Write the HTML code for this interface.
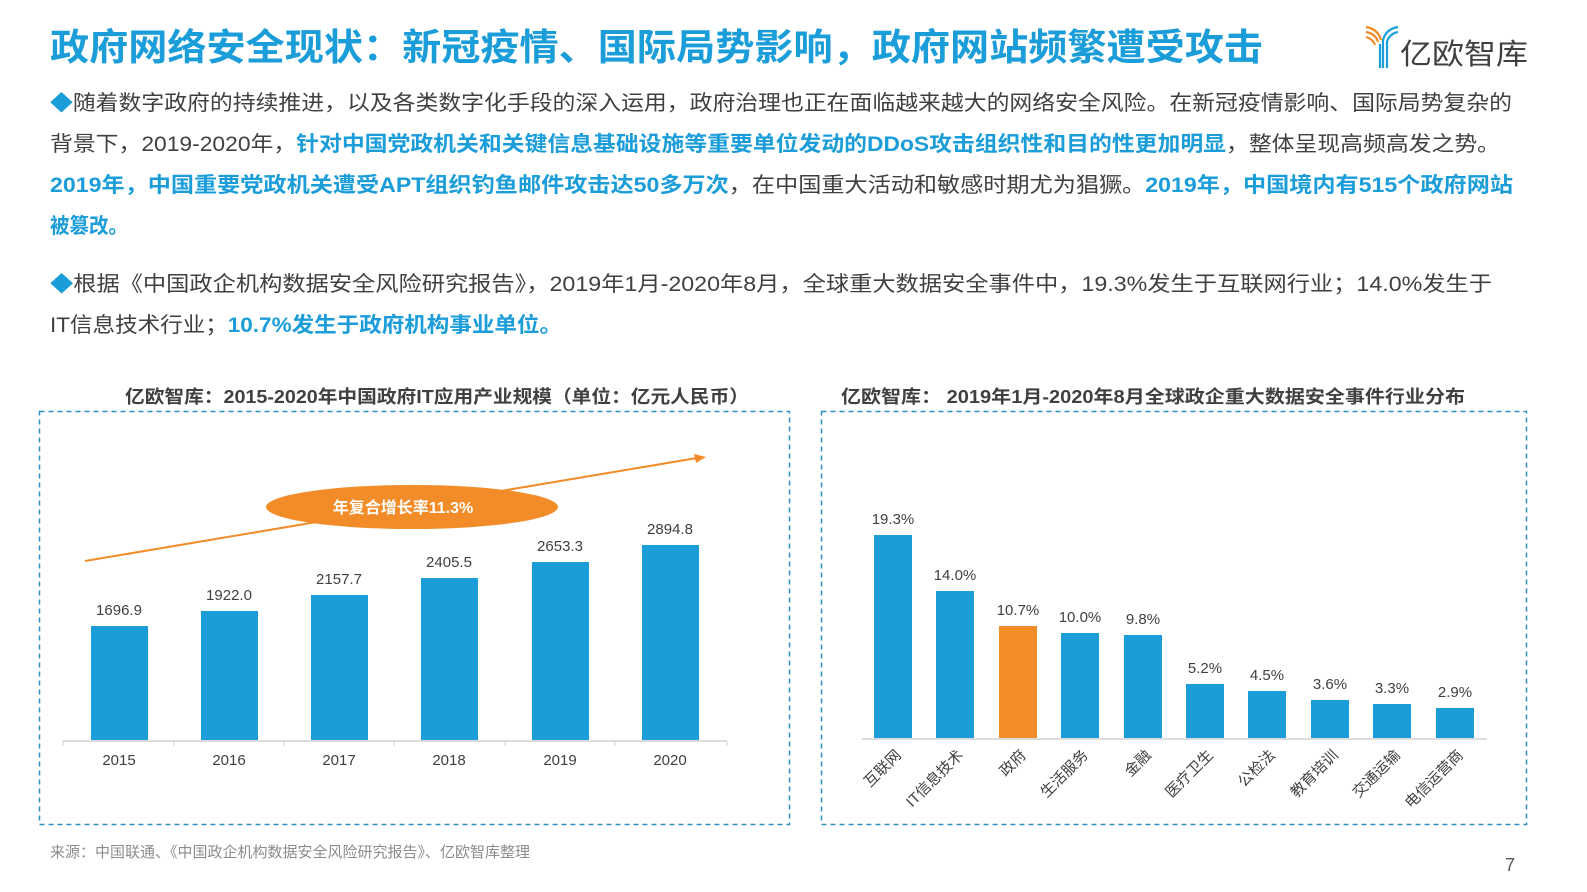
<!DOCTYPE html>
<html><head><meta charset="utf-8"><style>
html,body{margin:0;padding:0;background:#fff;width:1587px;height:892px;overflow:hidden;}
svg{display:block;position:absolute;left:0;top:0;font-family:"Liberation Sans","Noto Sans CJK SC",sans-serif;}
.b{fill:#1b9dd9;font-weight:bold;}
</style></head><body>
<svg width="1587" height="892" viewBox="0 0 1587 892" xmlns="http://www.w3.org/2000/svg">
<text x="50" y="60" font-size="37" font-weight="bold" fill="#1b9dd9" textLength="1213" lengthAdjust="spacingAndGlyphs">政府网络安全现状：新冠疫情、国际局势影响，政府网站频繁遭受攻击</text>
<g fill="none" stroke-width="2.2">
<path d="M1366 27 Q1378 29 1381 40" stroke="#f28c28"/>
<path d="M1366 32 Q1376 34 1378 42" stroke="#f28c28"/>
<path d="M1366 37 Q1373 39 1375 45" stroke="#f28c28"/>
<path d="M1398 27 Q1386 29 1383 40 L1383 68" stroke="#1b9dd9"/>
<path d="M1398 32 Q1389 34 1387 42 L1387 68" stroke="#1b9dd9"/>
<path d="M1380 44 L1380 68" stroke="#1b9dd9"/>
</g>
<text x="1400" y="64" font-size="29" fill="#404040" textLength="128" lengthAdjust="spacingAndGlyphs">亿欧智库</text>
<g font-size="21" fill="#404040">
<text x="50" y="110" textLength="1462" lengthAdjust="spacingAndGlyphs"><tspan fill="#1b9dd9">◆</tspan>随着数字政府的持续推进，以及各类数字化手段的深入运用，政府治理也正在面临越来越大的网络安全风险。在新冠疫情影响、国际局势复杂的</text>
<text x="50" y="151" textLength="1450" lengthAdjust="spacingAndGlyphs">背景下，2019-2020年，<tspan class="b">针对中国党政机关和关键信息基础设施等重要单位发动的DDoS攻击组织性和目的性更加明显</tspan>，整体呈现高频高发之势。</text>
<text x="50" y="192" textLength="1463" lengthAdjust="spacingAndGlyphs"><tspan class="b">2019年，中国重要党政机关遭受APT组织钓鱼邮件攻击达50多万次</tspan>，在中国重大活动和敏感时期尤为猖獗。<tspan class="b">2019年，中国境内有515个政府网站</tspan></text>
<text x="50" y="233" class="b" textLength="78" lengthAdjust="spacingAndGlyphs">被篡改。</text>
<text x="50" y="291" textLength="1442" lengthAdjust="spacingAndGlyphs"><tspan fill="#1b9dd9">◆</tspan>根据《中国政企机构数据安全风险研究报告》，2019年1月-2020年8月，全球重大数据安全事件中，19.3%发生于互联网行业；14.0%发生于</text>
<text x="50" y="332" textLength="512" lengthAdjust="spacingAndGlyphs">IT信息技术行业；<tspan class="b">10.7%发生于政府机构事业单位。</tspan></text>
</g>
<text x="437" y="403" font-size="18" font-weight="bold" fill="#404040" text-anchor="middle" textLength="624" lengthAdjust="spacingAndGlyphs">亿欧智库：2015-2020年中国政府IT应用产业规模（单位：亿元人民币）</text>
<text x="1153" y="403" font-size="18" font-weight="bold" fill="#404040" text-anchor="middle" textLength="624" lengthAdjust="spacingAndGlyphs">亿欧智库： 2019年1月-2020年8月全球政企重大数据安全事件行业分布</text>
<rect x="39.5" y="411.5" width="750" height="413" fill="none" stroke="#2e8fc0" stroke-width="1.5" stroke-dasharray="5,4"/>
<rect x="821.5" y="411.5" width="705" height="413" fill="none" stroke="#2e8fc0" stroke-width="1.5" stroke-dasharray="5,4"/>
<g fill="#1b9dd9">
<rect x="91" y="626" width="57" height="114"/>
<rect x="201" y="611" width="57" height="129"/>
<rect x="311" y="595" width="57" height="145"/>
<rect x="421" y="578" width="57" height="162"/>
<rect x="532" y="562" width="57" height="178"/>
<rect x="642" y="545" width="57" height="195"/>
</g>
<line x1="63" y1="741" x2="727" y2="741" stroke="#d0d0d0" stroke-width="1.5"/>
<g stroke="#d0d0d0"><line x1="63" y1="741" x2="63" y2="746"/><line x1="174" y1="741" x2="174" y2="746"/><line x1="284" y1="741" x2="284" y2="746"/><line x1="394" y1="741" x2="394" y2="746"/><line x1="505" y1="741" x2="505" y2="746"/><line x1="615" y1="741" x2="615" y2="746"/><line x1="727" y1="741" x2="727" y2="746"/></g>
<g font-size="15" fill="#404040" text-anchor="middle">
<text x="119" y="615">1696.9</text><text x="229" y="600">1922.0</text><text x="339" y="584">2157.7</text><text x="449" y="567">2405.5</text><text x="560" y="551">2653.3</text><text x="670" y="534">2894.8</text>
<text x="119" y="765">2015</text><text x="229" y="765">2016</text><text x="339" y="765">2017</text><text x="449" y="765">2018</text><text x="560" y="765">2019</text><text x="670" y="765">2020</text>
</g>
<line x1="85" y1="561" x2="697" y2="458" stroke="#f28c28" stroke-width="2"/>
<polygon points="706,457 694,454 696,463" fill="#f28c28"/>
<ellipse cx="412" cy="507" rx="146" ry="22" fill="#f28c28"/>
<text x="403" y="513" font-size="16" font-weight="bold" fill="#fff" text-anchor="middle">年复合增长率11.3%</text>
<g fill="#1b9dd9">
<rect x="874" y="535" width="38" height="203"/>
<rect x="936" y="591" width="38" height="147"/>
<rect x="999" y="626" width="38" height="112" fill="#f28c28"/>
<rect x="1061" y="633" width="38" height="105"/>
<rect x="1124" y="635" width="38" height="103"/>
<rect x="1186" y="684" width="38" height="54"/>
<rect x="1248" y="691" width="38" height="47"/>
<rect x="1311" y="700" width="38" height="38"/>
<rect x="1373" y="704" width="38" height="34"/>
<rect x="1436" y="708" width="38" height="30"/>
</g>
<line x1="862" y1="739" x2="1487" y2="739" stroke="#d0d0d0" stroke-width="1.5"/>
<g font-size="15" fill="#404040" text-anchor="middle">
<text x="893" y="524">19.3%</text><text x="955" y="580">14.0%</text><text x="1018" y="615">10.7%</text><text x="1080" y="622">10.0%</text><text x="1143" y="624">9.8%</text><text x="1205" y="673">5.2%</text><text x="1267" y="680">4.5%</text><text x="1330" y="689">3.6%</text><text x="1392" y="693">3.3%</text><text x="1455" y="697">2.9%</text>
</g>
<g font-size="15" fill="#404040" text-anchor="end">
<text transform="translate(902,756) rotate(-45)">互联网</text>
<text transform="translate(964,756) rotate(-45)">IT信息技术</text>
<text transform="translate(1027,756) rotate(-45)">政府</text>
<text transform="translate(1089,756) rotate(-45)">生活服务</text>
<text transform="translate(1152,756) rotate(-45)">金融</text>
<text transform="translate(1214,756) rotate(-45)">医疗卫生</text>
<text transform="translate(1276,756) rotate(-45)">公检法</text>
<text transform="translate(1339,756) rotate(-45)">教育培训</text>
<text transform="translate(1401,756) rotate(-45)">交通运输</text>
<text transform="translate(1464,756) rotate(-45)">电信运营商</text>
</g>
<text x="50" y="857" font-size="15" fill="#8c8c8c">来源：中国联通、《中国政企机构数据安全风险研究报告》、亿欧智库整理</text>
<text x="1505" y="871" font-size="18" fill="#595959">7</text>
</svg>
</body></html>
